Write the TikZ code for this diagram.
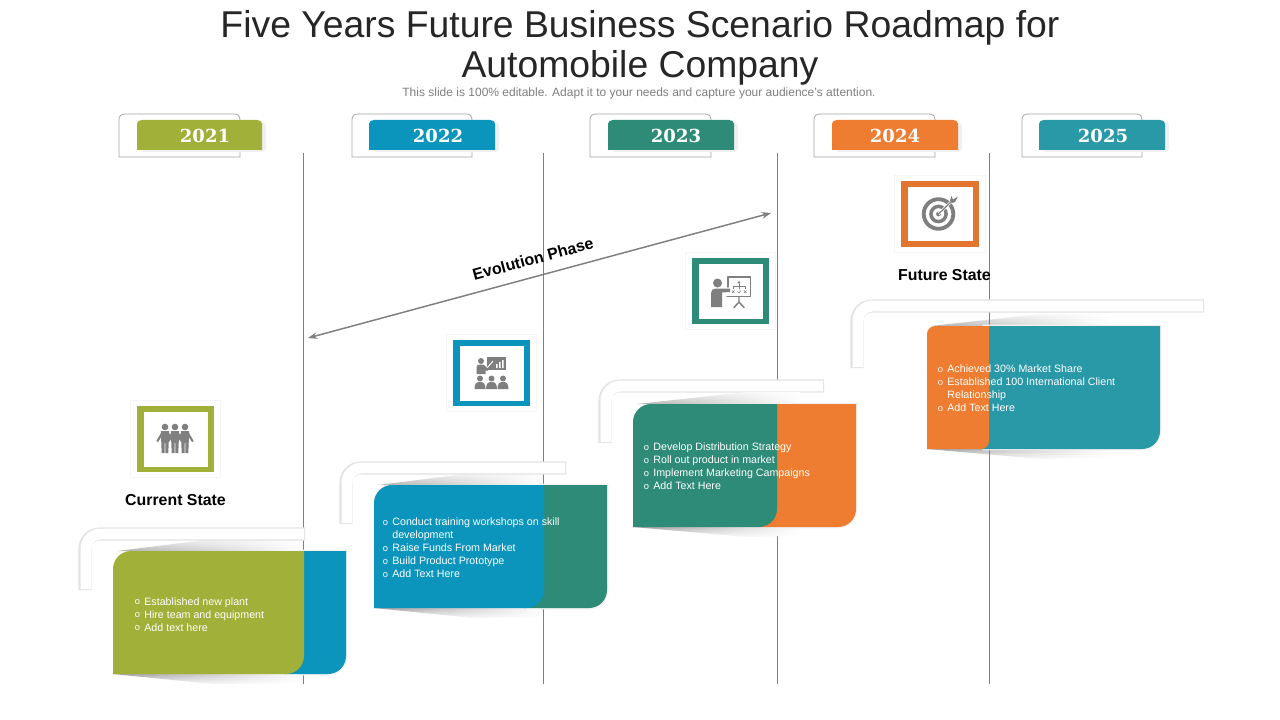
\documentclass[tikz,border=0pt]{standalone}
\usepackage{fontspec}
\usetikzlibrary{arrows.meta,fadings}
\setmainfont{Liberation Sans}
\newfontfamily\yearfont{DejaVu Serif}
\definecolor{cgreen}{HTML}{A0B038}
\definecolor{cblue}{HTML}{0B95BC}
\definecolor{cteal}{HTML}{2E8B77}
\definecolor{corange}{HTML}{EE7D31}
\definecolor{cframeorange}{HTML}{E2762F}
\definecolor{ccyan}{HTML}{2999A8}
\definecolor{icongray}{HTML}{7F7F7F}
\tikzset{
  x=0.75pt,y=-0.75pt,
  gridline/.style={draw=icongray,line width=0.7pt},
  yearlabel/.style={font=\yearfont\bfseries\fontsize{13.5}{16}\selectfont,text=white,inner sep=0pt},
  cardtext/.style={font=\fontsize{8}{9.75}\selectfont,text=white,align=left,anchor=north west,inner sep=0pt},
  statelabel/.style={font=\bfseries\fontsize{11.9}{14}\selectfont,text=black,inner sep=0pt},
  iconline/.style={draw=icongray,line cap=round,line join=round},
}
% year tab: outline x0, x1, colour x0, x1, colour, text x, name
\newcommand{\yeartab}[7]{
  \draw[draw=black!35,line width=0.6pt] (#1,157) -- (#1,120) .. controls (#1,116) and ({#1+2},114) .. ({#1+6},114) -- ({#2-6},114) .. controls ({#2-2},114) and (#2,116) .. (#2,120) -- (#2,157) -- cycle;
  \fill[black!6,rounded corners=3pt] ({#3+3},122) rectangle ({#4+4},152);
  \fill[#5] (#3,150) -- (#3,124) .. controls (#3,121.5) and ({#3+2},120) .. ({#3+5},120) -- ({#4-5},120) .. controls ({#4-2},120) and (#4,121.5) .. (#4,124) -- (#4,150) -- cycle;
  \node[yearlabel] (#7) at (#6,135.5) {20\yeartext};
}
% bracket: left x, top y, right x, bottom y
\newcommand{\bracketband}[4]{
  \draw[draw=black!11,line width=9.8pt,rounded corners=11pt] ({#1+5},#4) -- ({#1+5},{#2+6}) -- (#3,{#2+6});
  \draw[draw=white,line width=8.2pt,rounded corners=11pt] ({#1+6},{#4-1}) -- ({#1+6},{#2+6}) -- ({#3-1},{#2+6});
}
% wedges: x0,y0,y1,peak x, end x
\newcommand{\cardwedges}[5]{
  \fill[white] ({#1+4},#2) -- (#4,{#2-12}) -- (#5,{#2-12}) -- (#5,#2) -- cycle;
  \fill[white] (#1,#3) -- (#4,{#3+10}) -- (#5,{#3+9}) -- (#5,#3) -- cycle;
  \shade[top color=black!8,bottom color=black!32,path fading=east] ({#1+4},#2) -- (#4,{#2-12}) -- (#5,{#2-12}) -- (#5,#2) -- cycle;
  \shade[top color=black!38,bottom color=black!6,path fading=east] (#1,#3) -- (#4,{#3+10}) -- (#5,{#3+9}) -- (#5,#3) -- cycle;
}
% card: x0,y0,split,x1,y1,colL,colR,rL
\newcommand{\cardbody}[8]{
  \draw[draw=black!5,line width=2pt,fill=white] ({#3-5},#2) -- (#4,#2) -- (#4,{#5-18}) .. controls (#4,{#5-8}) and ({#4-8},#5) .. ({#4-18},#5) -- ({#3-5},#5) -- cycle;
  \fill[#7] ({#3-20},#2) -- (#4,#2) -- (#4,{#5-18}) .. controls (#4,{#5-8}) and ({#4-8},#5) .. ({#4-18},#5) -- ({#3-20},#5) -- cycle;
  \fill[#6] (#1,#5) -- (#1,{#2+#8}) .. controls (#1,{#2+0.45*#8}) and ({#1+0.45*#8},#2) .. ({#1+#8},#2) -- (#3,#2) -- (#3,{#5-#8}) .. controls (#3,{#5-0.45*#8}) and ({#3-0.45*#8},#5) .. ({#3-#8},#5) -- cycle;
}
% icon frame
\newcommand{\iconframe}[5]{
  \fill[white] ({#1-6.5},{#2-5.5}) rectangle ({#3+6.5},{#4+5.5});
  \draw[draw=black!4,line width=1pt] ({#1-6.5},{#2-5.5}) rectangle ({#3+6.5},{#4+5.5});
  \fill[#5] (#1,#2) rectangle (#3,#4);
  \fill[white] ({#1+6.5},{#2+6}) rectangle ({#3-6.5},{#4-5.5});
}
\newcommand{\bul}{\makebox[7.2pt][l]{\raisebox{0.2pt}{\fontsize{7}{7}\selectfont o}}}
\newcommand{\hng}{\hspace*{7.2pt}}
\newcommand{\teamperson}[3]{
  \fill[icongray] (#1,427) circle[radius=3.3];
  \draw[iconline,line width=#3pt] ({#1-3},433.5) -- ({#1-#2},441);
  \draw[iconline,line width=#3pt] ({#1+3},433.5) -- ({#1+#2},441);
  \fill[icongray] ({#1-4.2},431) -- ({#1+4.2},431) -- ({#1+3.3},453) -- ({#1+0.4},453) -- ({#1+0.4},443) -- ({#1-0.4},443) -- ({#1-0.4},453) -- ({#1-3.3},453) -- cycle;
}
\newcommand{\audience}[1]{
  \fill[icongray] (#1,378.5) circle[radius=3];
  \fill[icongray] ({#1-5.5},389) .. controls ({#1-5.5},383) and ({#1-3},382) .. (#1,382) .. controls ({#1+3},382) and ({#1+5.5},383) .. ({#1+5.5},389) -- cycle;
}
\begin{document}
\begin{tikzpicture}
\useasboundingbox (0,0) rectangle (1280,720);
\fill[white] (0,0) rectangle (1280,720);

\node[font=\fontsize{28}{30.2}\selectfont,text=black!85,align=center,inner sep=0pt] (title) at (640,47.5) {Five Years Future Business Scenario Roadmap for\\Automobile Company};
\node[font=\fontsize{9}{11}\selectfont,text=icongray,inner sep=0pt] (subtitle) at (639,93) {This slide is 100\% editable. Adapt it to your needs and capture your audience's attention.};

\def\yeartext{21}\yeartab{119}{240}{137}{262}{cgreen}{205}{y21}
\def\yeartext{22}\yeartab{352}{472}{369}{495}{cblue}{438}{y22}
\def\yeartext{23}\yeartab{590}{711}{608}{734}{cteal}{676}{y23}
\def\yeartext{24}\yeartab{814}{935}{832}{958}{corange}{895}{y24}
\def\yeartext{25}\yeartab{1022}{1142}{1039}{1165}{ccyan}{1103}{y25}

\cardwedges{113}{551}{674}{213}{304}
\cardwedges{374}{485}{608}{473}{545}
\cardwedges{927}{326}{449}{1040}{1110}

\coordinate (l1t) at (303.5,153); \coordinate (l1b) at (303.5,684);
\coordinate (l2t) at (543.5,153); \coordinate (l2b) at (543.5,684);
\coordinate (l3t) at (777.5,153); \coordinate (l3b) at (777.5,684);
\coordinate (l4t) at (989.5,153); \coordinate (l4b) at (989.5,684);
\draw[gridline] (l1t) -- (l1b);
\draw[gridline] (l2t) -- (l2b);
\draw[gridline] (l3t) -- (l3b);
\draw[gridline] (l4t) -- (l4b);

\bracketband{80}{528}{305}{590}
\bracketband{341}{462}{566}{524}
\bracketband{600}{380}{824}{443}
\bracketband{852}{300}{1204}{368}

\cardwedges{633}{404}{527}{747}{800}

\cardbody{113}{551}{304}{346}{674}{cgreen}{cblue}{18}
\cardbody{374}{485}{544}{607}{608}{cblue}{cteal}{18}
\cardbody{633}{404}{777}{856}{527}{cteal}{corange}{18}
\cardbody{927}{326}{989}{1160}{449}{corange}{ccyan}{8}

\node[cardtext] (t1) at (134.5,597) {\bul Established new plant\\\bul Hire team and equipment\\\bul Add text here};
\node[cardtext] (t2) at (382.5,517.5) {\bul Conduct training workshops on skill\\\hng development\\\bul Raise Funds From Market\\\bul Build Product Prototype\\\bul Add Text Here};
\node[cardtext] (t3) at (643.5,442.5) {\bul Develop Distribution Strategy\\\bul Roll out product in market\\\bul Implement Marketing Campaigns\\\bul Add Text Here};
\node[cardtext] (t4) at (937.5,364.5) {\bul Achieved 30\% Market Share\\\bul Established 100 International Client\\\hng Relationship\\\bul Add Text Here};

% icon 1
\iconframe{137}{406}{214}{472}{cgreen}
\teamperson{165}{7.5}{1.6}
\teamperson{185}{7.5}{1.6}
\teamperson{175}{6.5}{1.6}
\node[statelabel] (current) at (175.5,500) {Current State};

% icon 2
\iconframe{453}{340}{530}{406}{cblue}
\fill[icongray] (487,357) rectangle (506,369.5);
\fill[white] (496,364) rectangle (497.5,368) (499,362) rectangle (500.5,368) (502,360) rectangle (503.5,368);
\draw[draw=white,line width=0.7pt] (487,368) -- (493,361);
\fill[icongray] (481,361) circle[radius=3];
\fill[icongray] (476.5,374) -- (476.5,367) .. controls (476.5,365) and (478,364.5) .. (481,364.5) -- (484,365) -- (489,369.5) -- (487,371) -- (485.5,370) -- (485.5,374) -- cycle;
\audience{480}\audience{491.5}\audience{503}

% icon 3
\iconframe{692}{258}{769}{324}{cteal}
\fill[icongray] (717.5,283) circle[radius=4.5];
\fill[icongray] (711,307) -- (711,293) .. controls (711,290) and (713,288.5) .. (716,288.5) -- (730,288.5) -- (730,292) -- (722,292.5) -- (722,307) -- cycle;
\draw[iconline,line width=1.1pt] (728,287) -- (728,277) -- (750.5,277) -- (750.5,296.5) -- (727,296.5);
\draw[iconline,line width=1.1pt] (739,297) -- (739,302) -- (734,307.5) (739,302) -- (744,307.5);
\draw[iconline,line width=0.45pt] (739,284) -- (739,286) (733,289) -- (733,286.5) -- (745,286.5) -- (745,289) (739,286.5) -- (739,289);
\fill[icongray] (739,282.5) circle[radius=1.4];
\draw[iconline,line width=0.45pt] (732,290.5) -- (734.5,293) (734.5,290.5) -- (732,293) (744,290.5) -- (746.5,293) (746.5,290.5) -- (744,293) (737.5,291.5) -- (739,293) -- (741,290.5);

% icon 4
\iconframe{901}{181}{979}{247}{cframeorange}
\draw[draw=icongray,line width=2.9pt] (938.5,214) circle[radius=14.8];
\draw[draw=icongray,line width=2.6pt] (938.5,214) circle[radius=7.6];
\fill[icongray] (938.5,214) circle[radius=2.4];
\draw[draw=white,line width=1.9pt] (938.5,214) -- (953,200);
\draw[draw=icongray,line width=0.9pt] (938.5,214) -- (953,200);
\fill[icongray] (950,200.5) -- (951.5,196) -- (953,199.5) -- (958,196.5) -- (955,202) -- (952,203) -- cycle;
\node[statelabel] (future) at (944.5,275) {Future State};

% evolution arrow
\coordinate (evoA) at (771,213);
\coordinate (evoB) at (308,338);
\draw[draw=icongray,line width=1.1pt,{Stealth[length=7pt,width=5pt]}-{Stealth[length=7pt,width=5pt]}] (evoB) -- (evoA);
\node[font=\bfseries\fontsize{12}{14}\selectfont,text=black,rotate=15.1,inner sep=0pt] (evo) at (533,259) {Evolution Phase};
\end{tikzpicture}
\end{document}
